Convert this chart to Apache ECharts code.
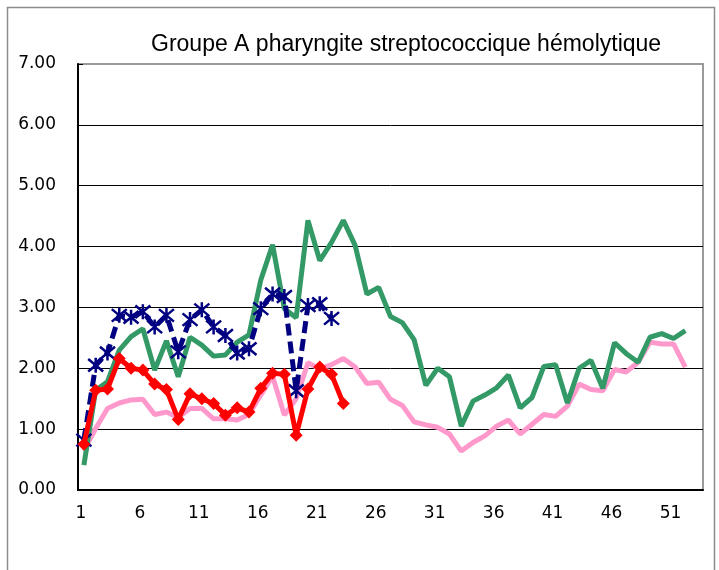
<!DOCTYPE html>
<html>
<head>
<meta charset="utf-8">
<title>Groupe A pharyngite streptococcique hémolytique</title>
<script src="https://cdn.jsdelivr.net/npm/echarts@6/dist/echarts.min.js"></script>
<style>
  html, body { margin: 0; padding: 0; background: #fff; }
  #chart { width: 719px; height: 570px; }
</style>
</head>
<body>
<div id="chart"></div>
<script>
// week numbers on the x axis
var weeks = ['1', '2', '3', '4', '5', '6', '7', '8', '9', '10', '11', '12', '13', '14', '15',
  '16', '17', '18', '19', '20', '21', '22', '23', '24', '25', '26', '27', '28', '29', '30',
  '31', '32', '33', '34', '35', '36', '37', '38', '39', '40', '41', '42', '43', '44', '45',
  '46', '47', '48', '49', '50', '51', '52', '53']

// pink line
var pinkValues = [0.65, 1.01, 1.34, 1.43, 1.48, 1.49, 1.24, 1.28, 1.19, 1.34, 1.34, 1.17, 1.17,
  1.15, 1.24, 1.56, 1.87, 1.23, 1.50, 2.09, 1.99, 2.06, 2.16, 2.02, 1.75, 1.77, 1.49, 1.39,
  1.12, 1.07, 1.03, 0.92, 0.64, 0.78, 0.89, 1.05, 1.15, 0.92, 1.08, 1.24, 1.21, 1.38, 1.74,
  1.65, 1.63, 1.98, 1.94, 2.10, 2.43, 2.40, 2.40, 2.02]

// green line
var greenValues = [0.41, 1.64, 1.78, 2.30, 2.52, 2.65, 1.97, 2.45, 1.86, 2.51, 2.38, 2.20, 2.22,
  2.43, 2.55, 3.45, 4.03, 2.98, 2.83, 4.43, 3.77, 4.07, 4.43, 4.02, 3.22, 3.33, 2.85, 2.75,
  2.47, 1.72, 2.00, 1.86, 1.05, 1.46, 1.56, 1.68, 1.89, 1.35, 1.52, 2.03, 2.06, 1.43, 2.00,
  2.13, 1.67, 2.42, 2.24, 2.10, 2.51, 2.57, 2.49, 2.62]

// navy dashed line with asterisks
var navyValues = [0.82, 2.05, 2.25, 2.87, 2.84, 2.93, 2.68, 2.87, 2.27, 2.80, 2.96, 2.68, 2.54,
  2.25, 2.32, 2.98, 3.22, 3.18, 1.63, 3.03, 3.06, 2.82]

// red line with diamonds
var redValues = [0.75, 1.64, 1.66, 2.16, 2.00, 1.97, 1.74, 1.65, 1.16, 1.58, 1.50, 1.42, 1.23,
  1.35, 1.28, 1.67, 1.92, 1.90, 0.90, 1.66, 2.02, 1.90, 1.42]

var yTicks = [0, 1, 2, 3, 4, 5, 6, 7]

var labelFont = 'DejaVu Sans'
var asterisk = 'path://M0,0L10,10M10,0L0,10M5,-1L5,11'

const myChart = echarts.init(document.getElementById('chart'))
myChart.setOption({
  animation: false,
  backgroundColor: '#fff',
  title: {
    text: 'Groupe A pharyngite streptococcique hémolytique',
    left: 146,
    top: 28,
    textStyle: {
      fontFamily: 'Liberation Sans',
      fontSize: 23,
      fontWeight: 'normal',
      color: '#000'
    }
  },
  // outer frame of the chart area
  graphic: [
    {
      type: 'rect',
      left: 5,
      top: 5,
      shape: { width: 707, height: 620 },
      style: { fill: 'none', stroke: '#8c8c8c', lineWidth: 1.5 },
      silent: true
    }
  ],
  grid: {
    left: 78,
    right: 16,
    top: 64,
    bottom: 80,
    show: true,
    borderColor: '#9a9a9a',
    borderWidth: 2
  },
  xAxis: {
    type: 'category',
    data: weeks,
    boundaryGap: true,
    axisLine: { lineStyle: { color: '#000', width: 2 } },
    axisTick: { inside: true, length: 5, interval: 4, lineStyle: { color: '#000' } },
    axisLabel: {
      interval: 4,
      margin: 15,
      padding: [0, 6, 0, 0],
      fontFamily: labelFont,
      fontSize: 17,
      color: '#000'
    },
    splitLine: { show: false }
  },
  yAxis: {
    type: 'value',
    min: yTicks[0],
    max: yTicks[yTicks.length - 1],
    interval: 1,
    axisLine: { show: true, lineStyle: { color: '#000', width: 2 } },
    axisTick: { show: true, inside: true, length: 5, lineStyle: { color: '#000' } },
    axisLabel: {
      margin: 22,
      fontFamily: labelFont,
      fontSize: 17,
      color: '#000',
      formatter: function (v) {
        return v.toFixed(2)
      }
    },
    splitLine: { show: true, showMaxLine: false, lineStyle: { color: '#000', width: 1 } }
  },
  series: [
    {
      name: 'pink',
      type: 'line',
      data: pinkValues,
      symbol: 'none',
      lineStyle: { color: '#ff99cc', width: 5 },
      z: 2
    },
    {
      name: 'green',
      type: 'line',
      data: greenValues,
      symbol: 'none',
      lineStyle: { color: '#339966', width: 5 },
      z: 3
    },
    {
      name: 'navy',
      type: 'line',
      data: navyValues,
      symbol: asterisk,
      symbolSize: 15,
      showAllSymbol: true,
      itemStyle: { color: '#000080', borderColor: '#000080', borderWidth: 2.5 },
      lineStyle: { color: '#000080', width: 5, type: [12, 6] },
      z: 4
    },
    {
      name: 'red',
      type: 'line',
      data: redValues,
      symbol: 'diamond',
      symbolSize: 13,
      showAllSymbol: true,
      itemStyle: { color: '#ff0000' },
      lineStyle: { color: '#ff0000', width: 5 },
      z: 5
    }
  ]
})
</script>
</body>
</html>
